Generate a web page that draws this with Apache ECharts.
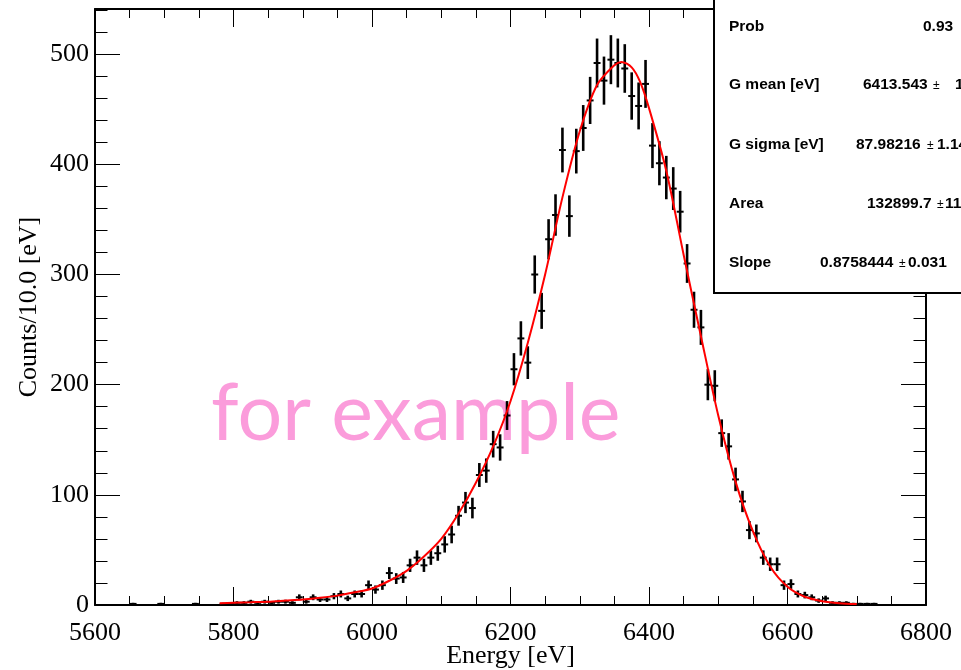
<!DOCTYPE html>
<html>
<head>
<meta charset="utf-8">
<script src="https://cdn.jsdelivr.net/npm/echarts@6/dist/echarts.min.js"></script>
<style>
html,body{margin:0;padding:0;background:#fff;}
#chart{width:961px;height:670px;}
</style>
</head>
<body>
<div id="chart"></div>
<script>
// ---- data ----
const binEnergy = [
 5605,5615,5625,5635,5645,5655,5665,5675,5685,5695,
 5705,5715,5725,5735,5745,5755,5765,5775,5785,5795,
 5805,5815,5825,5835,5845,5855,5865,5875,5885,5895,
 5905,5915,5925,5935,5945,5955,5965,5975,5985,5995,
 6005,6015,6025,6035,6045,6055,6065,6075,6085,6095,
 6105,6115,6125,6135,6145,6155,6165,6175,6185,6195,
 6205,6215,6225,6235,6245,6255,6265,6275,6285,6295,
 6305,6315,6325,6335,6345,6355,6365,6375,6385,6395,
 6405,6415,6425,6435,6445,6455,6465,6475,6485,6495,
 6505,6515,6525,6535,6545,6555,6565,6575,6585,6595,
 6605,6615,6625,6635,6645,6655,6665,6675,6685,6695,
 6705,6715,6725,6735,6745,6755,6765,6775,6785,6795];
const binCounts = [
 0,0,0,0,0,1,0,0,0,1,
 0,0,0,0,1,0,0,0,1,1,
 2,2,3,2,3,2,3,3,2,7,
 3,7,5,5,8,10,6,10,10,18,
 14,18,29,24,25,36,43,36,43,47,
 55,64,81,93,88,118,122,146,143,172,
 214,242,220,300,267,332,354,413,353,412,
 433,458,492,476,495,492,487,462,453,473,
 417,401,388,378,357,310,268,252,200,199,
 156,144,114,94,68,65,43,37,37,18,
 19,10,9,7,4,6,2,2,2,1,
 1,1,1,0,0,0,0,0,0,0];
const fitEnergy = [5780,5800,5825,5850,5875,5900,5925,5950,5975,6000,6025,6050,6075,6100,6125,6150,6175,6200,6225,6250,6275,6300,6325,6350,6360,6375,6387,6400,6425,6450,6475,6500,6525,6550,6575,6600,6625,6650,6675,6700];
const fitCounts = [1.5,2,2.5,3,4,5,6.5,8.5,11.5,15,22,31,44,60,83,111,144,185,238,300,370,430,472,490,493,488,475,451,394,318,244,172,112,67,35,16.6,7.5,3.5,1.6,0.8];
const xTicks = [5600, 6800, 200];   // min, max, interval
const yTicks = [0, 541, 100, 20];   // min, max, major, minor
const statNames = ['Prob', 'G mean [eV]', 'G sigma [eV]', 'Area', 'Slope'];
const statValues = ['0.93', '6413.543', '87.98216', '132899.7', '0.8758444'];
const statErrors = ['', '1', '1.14', '11', '0.031'];
const binWidth = 10;

// ---- chart ----
const chart = echarts.init(document.getElementById('chart'), null, {renderer: 'canvas'});
const serif = 'Liberation Serif';
const frameLine = {show: true, onZero: false, lineStyle: {color: '#000', width: 2}};
function xAx(pos, labels) {
  return {
    type: 'value', position: pos, min: xTicks[0], max: xTicks[1], interval: xTicks[2],
    axisLine: frameLine,
    axisTick: {show: true, inside: true, length: 18, lineStyle: {color: '#000', width: 1}},
    minorTick: {show: true, splitNumber: 4, length: 9, lineStyle: {color: '#000', width: 1}},
    splitLine: {show: false},
    axisLabel: {show: labels, color: '#000', fontFamily: serif, fontSize: 26, margin: 15,
      formatter: v => String(v)},
    name: labels ? 'Energy [eV]' : '', nameLocation: 'middle', nameGap: 38, nameMoveOverlap: false,
    nameTextStyle: {color: '#000', fontFamily: serif, fontSize: 26}
  };
}
function yAx(pos, major, labels) {
  return {
    type: 'value', position: pos, min: yTicks[0], max: yTicks[1],
    interval: major ? yTicks[2] : yTicks[3],
    axisLine: major ? frameLine : {show: false},
    axisTick: {show: true, inside: true, length: major ? 25 : 12.5, lineStyle: {color: '#000', width: 1}},
    splitLine: {show: false},
    axisLabel: {show: labels, color: '#000', fontFamily: serif, fontSize: 26, margin: 6,
      showMaxLabel: false,
      formatter: v => (v % 100 === 0 ? String(v) : '')},
    name: labels ? 'Counts/10.0 [eV]' : '', nameLocation: 'middle', nameGap: 53, nameMoveOverlap: false,
    nameTextStyle: {color: '#000', fontFamily: serif, fontSize: 26}
  };
}

const points = binEnergy.map((e, i) => [e, binCounts[i]]);
const fitLine = fitEnergy.map((e, i) => [e, fitCounts[i]]);

const statText = [];
const rowY = [27, 85, 145, 204, 263];
const valX = [923, 863, 856, 867, 820];
const pmX = [0, 933, 927, 937, 899];
const errX = [0, 955, 937, 945, 908];
const sFont = 'bold 15.5px "Liberation Sans"';
statNames.forEach((n, i) => {
  statText.push({type: 'text', z: 101, style: {text: n, x: 729, y: rowY[i], font: sFont, fill: '#000', align: 'left', verticalAlign: 'middle'}});
  statText.push({type: 'text', z: 101, style: {text: statValues[i], x: valX[i], y: rowY[i], font: sFont, fill: '#000', align: 'left', verticalAlign: 'middle'}});
  if (statErrors[i]) {
    statText.push({type: 'text', z: 101, style: {text: '\u00b1', x: pmX[i], y: rowY[i] + 1, font: '12px "Liberation Sans"', fill: '#000', align: 'left', verticalAlign: 'middle'}});
    statText.push({type: 'text', z: 101, style: {text: statErrors[i], x: errX[i], y: rowY[i], font: sFont, fill: '#000', align: 'left', verticalAlign: 'middle'}});
  }
});

const option = {
  animation: false,
  backgroundColor: '#fff',
  grid: {left: 95, right: 35, top: 9, bottom: 65, containLabel: false, outerBoundsMode: 'none'},
  xAxis: [xAx('bottom', true), xAx('top', false)],
  yAxis: [yAx('left', true, true), yAx('left', false, false), yAx('right', true, false), yAx('right', false, false)],
  graphic: {elements: [
    {type: 'text', z: 1, style: {text: 'for example', x: 211, y: 415, font: '79px Lato', fill: '#fb9cdb', align: 'left', verticalAlign: 'middle'}},
    {type: 'rect', z: 100, shape: {x: 714, y: -5, width: 260, height: 298}, style: {fill: '#fff', stroke: '#000', lineWidth: 2}}
  ].concat(statText)},
  series: [
    {
      type: 'custom', xAxisIndex: 0, yAxisIndex: 0, z: 3,
      data: points,
      renderItem: function (params, api) {
        const x = api.value(0), y = api.value(1);
        if (!(y > 0)) return null;
        const err = Math.sqrt(y);
        const l = api.coord([x - binWidth / 2, y]);
        const r = api.coord([x + binWidth / 2, y]);
        const t = api.coord([x, y + err]);
        const b = api.coord([x, y - err]);
        return {type: 'group', children: [
          {type: 'line', shape: {x1: l[0], y1: l[1], x2: r[0], y2: r[1]}, style: {stroke: '#000', lineWidth: 2}},
          {type: 'line', shape: {x1: t[0], y1: t[1], x2: b[0], y2: b[1]}, style: {stroke: '#000', lineWidth: 2.6}}
        ]};
      }
    },
    {
      type: 'line', xAxisIndex: 0, yAxisIndex: 0, z: 4,
      data: fitLine, smooth: 0.3, showSymbol: false, symbol: 'none',
      lineStyle: {color: '#ff0000', width: 2}
    }
  ]
};
chart.setOption(option);
</script>
</body>
</html>
